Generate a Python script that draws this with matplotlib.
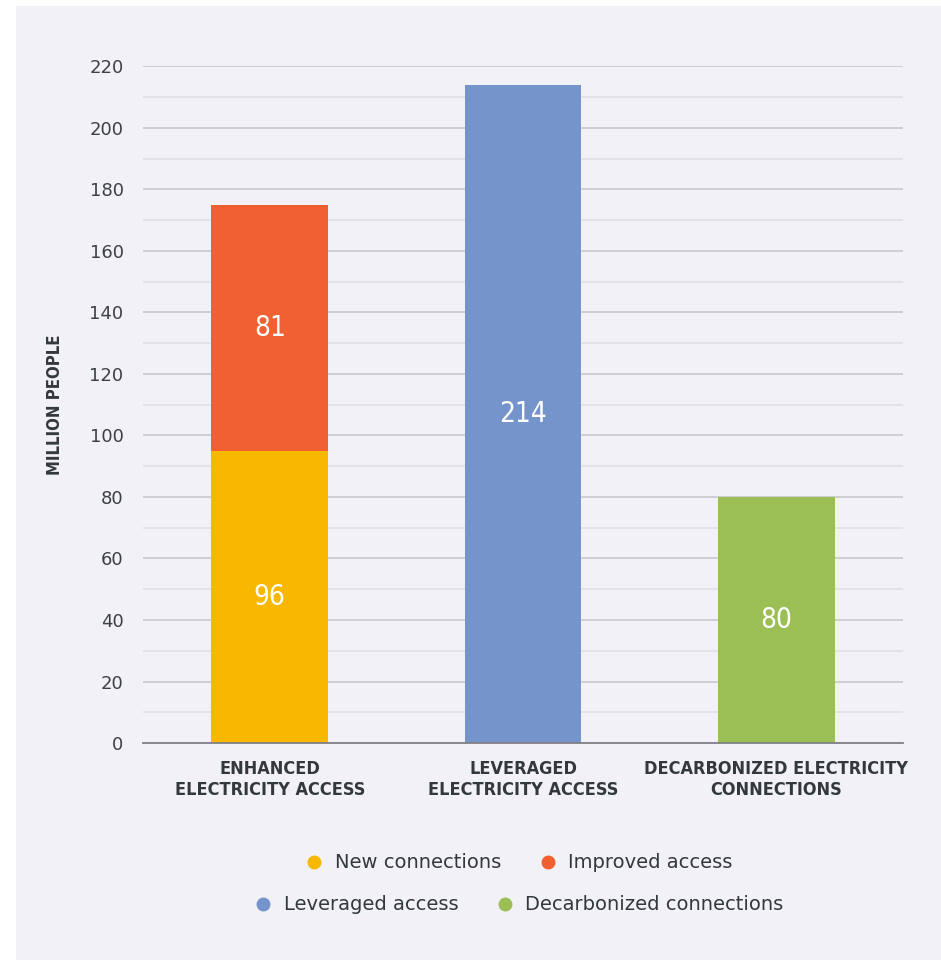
import matplotlib.pyplot as plt
from matplotlib.lines import Line2D
from matplotlib.patches import Rectangle
import numpy as np

# categories and values
categories = ["ENHANCED\nELECTRICITY ACCESS", "LEVERAGED\nELECTRICITY ACCESS",
              "DECARBONIZED ELECTRICITY\nCONNECTIONS"]
new_connections = [95, 0, 0]
improved_access = [80, 0, 0]
leveraged_access = [0, 214, 0]
decarbonized = [0, 0, 80]
bar_labels = [["96", "81"], ["214"], ["80"]]
y_ticks = list(range(0, 221, 20))

bg = "#f1f1f6"
c_new = "#f8b800"
c_imp = "#f16030"
c_lev = "#7594cb"
c_dec = "#9bbf55"
txt = "#33383c"

fig = plt.figure(figsize=(9.41, 9.6), dpi=100, facecolor="white")
# light panel behind the chart, with a thin white margin left and top
fig.patches.append(Rectangle((16 / 941, -0.05), 1.1, 1.05 - 6 / 960, transform=fig.transFigure,
                             facecolor=bg, edgecolor="none", zorder=-10))
ax = fig.add_axes([0.152, 0.226, 0.8077, 0.705], facecolor=bg)

x = np.arange(len(categories))
w = 0.46
ax.bar(x[0], new_connections[0], w, color=c_new, zorder=3)
ax.bar(x[0], improved_access[0], w, bottom=new_connections[0], color=c_imp, zorder=3)
ax.bar(x[1], leveraged_access[1], w, color=c_lev, zorder=3)
ax.bar(x[2], decarbonized[2], w, color=c_dec, zorder=3)

lab_kw = dict(color="white", fontsize=20, ha="center", va="center",
              fontstretch="condensed", zorder=4)
ax.text(x[0], new_connections[0] / 2, bar_labels[0][0], **lab_kw)
ax.text(x[0], new_connections[0] + improved_access[0] / 2, bar_labels[0][1], **lab_kw)
ax.text(x[1], leveraged_access[1] / 2, bar_labels[1][0], **lab_kw)
ax.text(x[2], decarbonized[2] / 2, bar_labels[2][0], **lab_kw)

ax.set_xlim(-0.5, 2.5)
ax.set_ylim(0, 220)
ax.set_yticks(y_ticks)
ax.set_yticks(range(10, 220, 20), minor=True)
ax.grid(axis="y", which="major", color="#c8c8cc", lw=1.2, zorder=0)
ax.grid(axis="y", which="minor", color="#e0e0e6", lw=1.2, zorder=0)
ax.tick_params(axis="y", which="both", length=0, pad=14, labelsize=13, labelcolor="#3d4045")
ax.tick_params(axis="x", length=0, pad=12)
ax.set_xticks(x)
ax.set_xticklabels(categories, fontsize=13, fontweight="bold", color=txt,
                   fontstretch="condensed", linespacing=1.25)
for s in ["top", "right", "left"]:
    ax.spines[s].set_visible(False)
ax.spines["bottom"].set_color("#808085")
ax.spines["bottom"].set_linewidth(1.3)
ax.spines["bottom"].set_zorder(5)

ax.set_ylabel("MILLION PEOPLE", fontsize=12, fontweight="bold", color=txt,
              fontstretch="condensed", labelpad=18)

def dot(c):
    return Line2D([], [], marker="o", ls="", color=c, markersize=9)

leg_kw = dict(frameon=False, ncol=2, fontsize=14, handletextpad=0.05,
              columnspacing=1.4, labelcolor=txt, loc="center")
fig.legend([dot(c_new), dot(c_imp)], ["New connections", "Improved access"],
           bbox_to_anchor=(0.546, 1 - 863 / 960), **leg_kw)
fig.legend([dot(c_lev), dot(c_dec)], ["Leveraged access", "Decarbonized connections"],
           bbox_to_anchor=(0.546, 1 - 905 / 960), **leg_kw)

fig.savefig("out.png", dpi=100, facecolor="white")
